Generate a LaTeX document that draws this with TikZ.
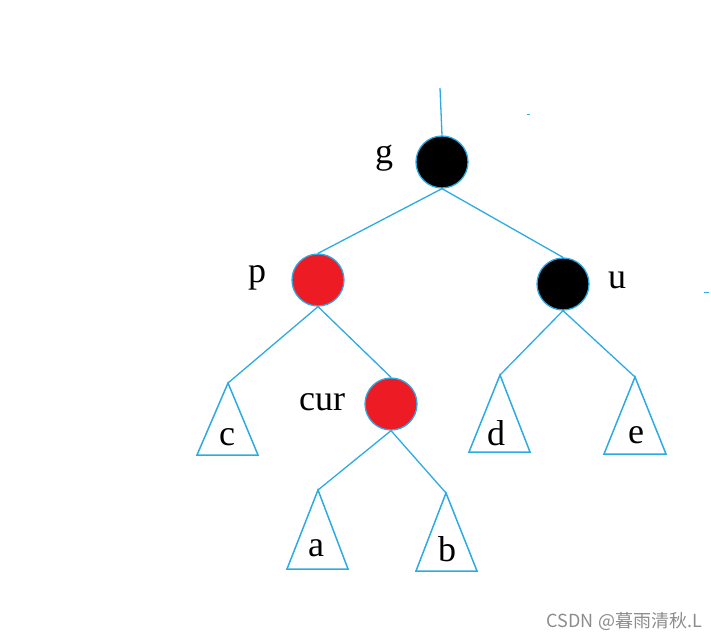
\documentclass[tikz,border=0pt]{standalone}
\usepackage{fontspec}
\setmainfont{Liberation Serif}
\newfontfamily\wmfont{Noto Sans CJK SC}
\definecolor{linec}{RGB}{45,170,228}
\definecolor{redn}{RGB}{237,28,36}
\definecolor{wmgray}{RGB}{140,140,140}
\begin{document}
\begin{tikzpicture}[x=1pt,y=-1pt,
  rbnode/.style={circle,minimum size=52pt,inner sep=0pt,draw=linec,line width=1.3pt},
  blk/.style={rbnode,fill=black},
  rd/.style={rbnode,fill=redn},
  edge/.style={draw=linec,line width=1.3pt},
  lab/.style={font=\fontsize{36}{36}\selectfont,inner sep=0pt,anchor=base},
  tri/.style={draw=linec,line width=1.5pt,line join=miter}]
\useasboundingbox (0,0) rectangle (711,639);
\node[blk] (g) at (442,162) {};
\node[rd] (p) at (318,280) {};
\node[blk] (u) at (563,284) {};
\node[rd] (cur) at (391,404) {};
\coordinate (top) at (440,88);
\coordinate (tc) at (228,383);
\coordinate (td) at (500,375);
\coordinate (te) at (635,377);
\coordinate (ta) at (318,490);
\coordinate (tb) at (446,493);
% labels
\node[lab] (lg) at (384,164) {g};
\node[lab] (lp) at (257,282) {p};
\node[lab] (lu) at (617,288) {u};
\node[lab] (lcur) at (322,410) {cur};
% edges
\draw[edge] (top) -- (g.north);
\draw[edge] (g.south) -- (p.north);
\draw[edge] (g.south) -- (u.north);
\draw[edge] (p.south) -- (tc);
\draw[edge] (p.south) -- (cur.north);
\draw[edge] (u.south) -- (td);
\draw[edge] (u.south) -- (te);
\draw[edge] (cur.south) -- (ta);
\draw[edge] (cur.south) -- (tb);
% triangles
\draw[tri] (tc) -- ++(-31,72) -- ++(61,0) -- cycle;
\draw[tri] (td) -- ++(-31,77) -- ++(61,0) -- cycle;
\draw[tri] (te) -- ++(-31,77) -- ++(62,0) -- cycle;
\draw[tri] (ta) -- ++(-31,79) -- ++(61,0) -- cycle;
\draw[tri] (tb) -- ++(-30,78) -- ++(61,0) -- cycle;
\node[lab] (lc) at (227,445) {c};
\node[lab] (ld) at (496,445) {d};
\node[lab] (le) at (636,443) {e};
\node[lab] (la) at (316,556) {a};
\node[lab] (lb) at (447,561) {b};
% stray marks
\draw[linec,line width=1pt] (527,115) -- (530,115);
\draw[linec,line width=1pt] (704,292) -- (709,292);
% watermark
\node[font=\wmfont\fontsize{18}{18}\selectfont,text=wmgray,anchor=east,inner sep=0pt] (wm) at (702,621) {CSDN @暮雨清秋.L};
\end{tikzpicture}
\end{document}
